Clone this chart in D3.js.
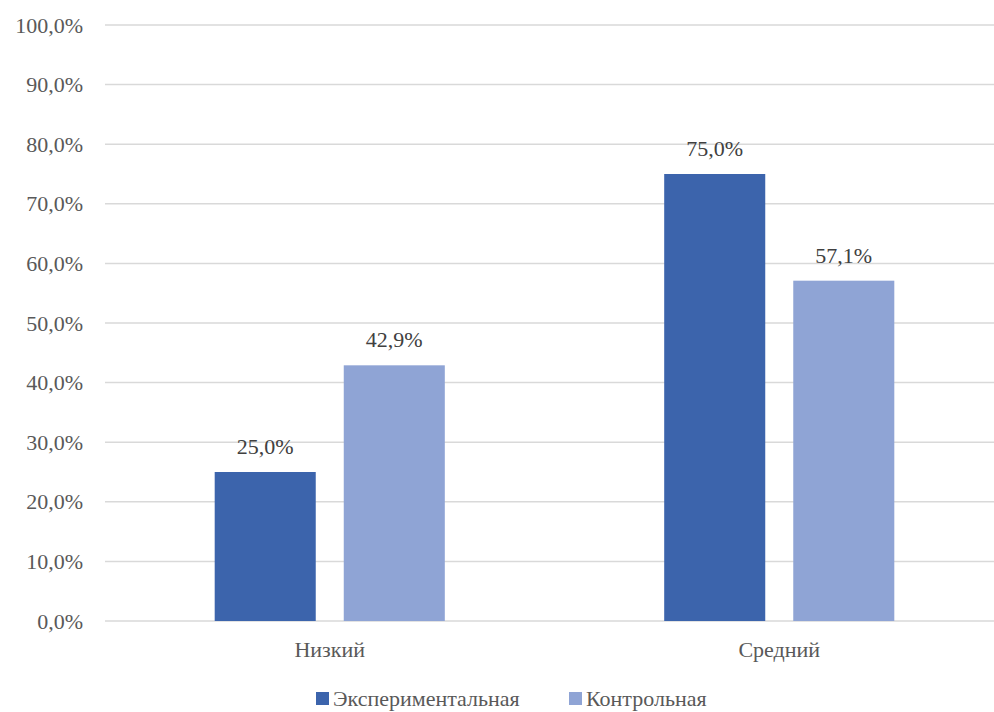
<!DOCTYPE html>
<html>
<head>
<meta charset="utf-8">
<script src="https://cdn.jsdelivr.net/npm/d3@7"></script>
<style>
  body { margin: 0; background: #fff; }
</style>
</head>
<body>
<div id="chart"></div>
<script>
const categories = ["Низкий", "Средний"];
const series = ["Экспериментальная", "Контрольная"];
const experimental = [25.0, 75.0];
const control = [42.9, 57.1];
const yTicks = [0, 10, 20, 30, 40, 50, 60, 70, 80, 90, 100];
const colors = ["#3C64AC", "#8FA4D5"];

(function(){
    const fullWidth = 994;
    const fullHeight = 712;
    const margin = { top: 25, left: 105, bottom: 91, right: -10 };
    const width = fullWidth - margin.left - margin.right;
    const height = fullHeight - margin.top - margin.bottom;
    const font = "'Liberation Serif', 'DejaVu Serif', serif";

    const values = [experimental, control];
    const fmt = v => v.toFixed(1).replace(".", ",") + "%";

    const svg = d3.select("#chart")
        .append("svg")
            .attr("width", fullWidth)
            .attr("height", fullHeight)
        .append("g")
            .attr("transform", `translate(${margin.left}, ${margin.top})`);

    const yScale = d3.scaleLinear().domain([0, 100]).range([height, 0]);

    const x0 = d3.scaleBand().domain(categories).range([0, width]);
    const x1 = d3.scaleBand().domain(series)
        .range([0, x0.bandwidth()])
        .paddingInner(0.217)
        .paddingOuter(0.85);

    // gridlines
    svg.append("g")
        .selectAll("line")
        .data(yTicks)
        .join("line")
            .attr("x1", 0)
            .attr("x2", width)
            .attr("y1", d => yScale(d))
            .attr("y2", d => yScale(d))
            .style("stroke", "#d9d9d9")
            .style("stroke-width", 1.5);

    // y labels
    const yAxis = d3.axisLeft(yScale)
        .tickValues(yTicks)
        .tickSize(0)
        .tickPadding(22)
        .tickFormat(fmt);
    svg.append("g")
        .call(yAxis)
        .call(g => g.select(".domain").remove())
        .selectAll("text")
            .style("font-family", font)
            .style("font-size", "22px")
            .style("fill", "#595959");

    // bars
    const groups = svg.append("g")
        .selectAll("g")
        .data(categories)
        .join("g")
            .attr("transform", d => `translate(${x0(d)}, 0)`);

    groups.selectAll("rect")
        .data((c, i) => series.map((s, j) => ({ s, j, v: values[j][i] })))
        .join("rect")
            .attr("x", d => x1(d.s))
            .attr("width", x1.bandwidth())
            .attr("y", d => yScale(d.v))
            .attr("height", d => yScale(0) - yScale(d.v))
            .style("fill", d => colors[d.j]);

    groups.selectAll("text.val")
        .data((c, i) => series.map((s, j) => ({ s, j, v: values[j][i] })))
        .join("text")
            .attr("class", "val")
            .attr("x", d => x1(d.s) + x1.bandwidth() / 2)
            .attr("y", d => yScale(d.v) - 18)
            .attr("text-anchor", "middle")
            .style("font-family", font)
            .style("font-size", "22px")
            .style("fill", "#404040")
            .text(d => fmt(d.v));

    // x labels
    const xAxis = d3.axisBottom(x0).tickSize(0).tickPadding(20);
    svg.append("g")
        .attr("transform", `translate(0, ${height})`)
        .call(xAxis)
        .call(g => g.select(".domain").remove())
        .selectAll("text")
            .style("font-family", font)
            .style("font-size", "22px")
            .style("fill", "#595959");

    // legend
    const legend = d3.select("svg").append("g")
        .attr("transform", "translate(316, 692)");
    const starts = [0, 253];
    series.forEach((s, i) => {
        const item = legend.append("g").attr("transform", `translate(${starts[i]}, 0)`);
        item.append("rect")
            .attr("width", 13).attr("height", 13)
            .style("fill", colors[i]);
        item.append("text")
            .attr("x", 17).attr("y", 14)
            .style("font-family", font)
            .style("font-size", "22px")
            .style("fill", "#595959")
            .text(s);
    });
}());
</script>
</body>
</html>
